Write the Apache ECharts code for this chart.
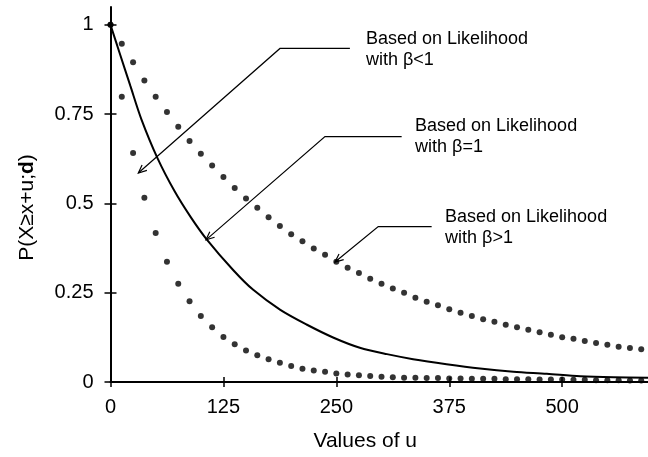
<!DOCTYPE html>
<html>
<head>
<meta charset="utf-8">
<script src="https://cdn.jsdelivr.net/npm/echarts@6/dist/echarts.min.js"></script>
<style>html,body{margin:0;padding:0;background:#fff}#c{width:648px;height:457px}</style>
</head>
<body>
<div id="c"></div>
<script>
// ---- data ----
const uDots = [0,12.5,25,37.5,50,62.5,75,87.5,100,112.5,125,137.5,150,162.5,175,187.5,200,212.5,225,237.5,250,262.5,275,287.5,300,312.5,325,337.5,350,362.5,375,387.5,400,412.5,425,437.5,450,462.5,475,487.5,500,512.5,525,537.5,550,562.5,575,587.5];
const pBetaLess = [1.0,0.799,0.641,0.516,0.417,0.337,0.275,0.226,0.185,0.153,0.126,0.106,0.088,0.075,0.064,0.054,0.045,0.037,0.032,0.029,0.024,0.021,0.019,0.017,0.015,0.013,0.012,0.012,0.011,0.011,0.010,0.010,0.009,0.009,0.009,0.008,0.008,0.008,0.007,0.007,0.007,0.006,0.006,0.005,0.005,0.005,0.004,0.004];
const pBetaMore = [1.0,0.947,0.895,0.844,0.799,0.756,0.715,0.675,0.639,0.606,0.574,0.543,0.514,0.488,0.461,0.437,0.414,0.394,0.374,0.356,0.337,0.320,0.305,0.289,0.275,0.262,0.250,0.236,0.225,0.215,0.204,0.194,0.185,0.176,0.169,0.160,0.153,0.146,0.139,0.132,0.125,0.121,0.115,0.109,0.104,0.099,0.095,0.092];
const uCurve = [0,10,22,34,52,71,89,106,136,158,188,217,247,276,306,335,372,409,446,483,520,557,595];
const pBetaOne = [1.0,0.922,0.829,0.737,0.627,0.534,0.461,0.401,0.313,0.258,0.202,0.161,0.124,0.096,0.078,0.064,0.050,0.038,0.029,0.023,0.016,0.013,0.012];
const xTicks = [0,125,250,375,500];
const yTicks = [0,0.25,0.5,0.75,1];
const xTitle = 'Values of u';
const yTitle = 'P(X≥x+u;{b|d})';
// annotations: text anchor, horizontal end, elbow, arrow tip (data coords)
const notes = [
  {text:'Based on Likelihood\nwith β<1', at:[282.8,0.989], end:[265,0.934], elbow:[187.6,0.934], tip:[30.8,0.585]},
  {text:'Based on Likelihood\nwith β=1', at:[337.1,0.747], end:[322.3,0.687], elbow:[237.4,0.687], tip:[105.7,0.398]},
  {text:'Based on Likelihood\nwith β>1', at:[370.3,0.491], end:[355.5,0.435], elbow:[296.4,0.435], tip:[248.5,0.336]}
];

const FONT = "'Liberation Sans', Arial, sans-serif";
const pair = (xs, ys) => xs.map((x, i) => [x, ys[i]]);

const chart = echarts.init(document.getElementById('c'), null, {renderer: 'canvas'});
const axisLineStyle = {color: '#000', width: 2};
chart.setOption({
  animation: false,
  backgroundColor: '#fff',
  grid: {left: 110.5, right: 0, top: 7, bottom: 70.5, containLabel: false},
  xAxis: [
    {type: 'value', min: 0, max: 595, position: 'bottom',
     axisLine: {show: true, onZero: false, lineStyle: axisLineStyle},
     axisTick: {show: true, inside: false, length: 5, customValues: xTicks, lineStyle: {color: '#000', width: 1.5}},
     axisLabel: {show: true, customValues: xTicks, margin: 15, color: '#000', fontSize: 20, fontFamily: FONT},
     splitLine: {show: false},
     name: xTitle, nameLocation: 'middle', nameGap: 49,
     nameTextStyle: {color: '#000', fontSize: 21, fontFamily: FONT, padding: [0, 28, 0, 0]}},
    {type: 'value', min: 0, max: 595, position: 'bottom',
     axisLine: {show: false, onZero: false},
     axisTick: {show: true, inside: true, length: 5, customValues: xTicks, lineStyle: {color: '#000', width: 1.5}},
     axisLabel: {show: false}, splitLine: {show: false}}
  ],
  yAxis: [
    {type: 'value', min: 0, max: 1.05, position: 'left',
     axisLine: {show: true, onZero: false, lineStyle: axisLineStyle},
     axisTick: {show: true, inside: false, length: 6, customValues: yTicks, lineStyle: {color: '#000', width: 1.5}},
     axisLabel: {show: true, customValues: yTicks, margin: 17, color: '#000', fontSize: 20, fontFamily: FONT},
     splitLine: {show: false},
     name: yTitle, nameLocation: 'middle', nameGap: 73,
     nameTextStyle: {color: '#000', fontSize: 21, fontFamily: FONT, padding: [0, 26, 0, 0],
       rich: {b: {fontWeight: 'bold', fontSize: 21, fontFamily: FONT, color: '#000'}}}},
    {type: 'value', min: 0, max: 1.05, position: 'left',
     axisLine: {show: false, onZero: false},
     axisTick: {show: true, inside: true, length: 6, customValues: yTicks, lineStyle: {color: '#000', width: 1.5}},
     axisLabel: {show: false}, splitLine: {show: false}}
  ],
  series: [
    {name: 'β=1', type: 'line', data: pair(uCurve, pBetaOne), smooth: 0.3, showSymbol: false,
     lineStyle: {color: '#000', width: 2}, clip: true, z: 3},
    {name: 'β<1', type: 'scatter', data: pair(uDots, pBetaLess), symbol: 'circle', symbolSize: 6,
     itemStyle: {color: '#000'}, z: 4},
    {name: 'β>1', type: 'scatter', data: pair(uDots, pBetaMore), symbol: 'circle', symbolSize: 6,
     itemStyle: {color: '#000'}, z: 4}
  ]
});

const toPx = (d) => chart.convertToPixel({xAxisIndex: 0, yAxisIndex: 0}, d);
const graphics = [];
notes.forEach(n => {
  const a = toPx(n.at), e = toPx(n.end), b = toPx(n.elbow), t = toPx(n.tip);
  graphics.push({type: 'polyline', shape: {points: [e, b, t]}, style: {stroke: '#000', lineWidth: 1.2, fill: null}, z: 10});
  const ang = Math.atan2(t[1] - b[1], t[0] - b[0]);
  const L = 9, w = 0.42;
  const p1 = [t[0] - L * Math.cos(ang - w), t[1] - L * Math.sin(ang - w)];
  const p2 = [t[0] - L * Math.cos(ang + w), t[1] - L * Math.sin(ang + w)];
  graphics.push({type: 'polyline', shape: {points: [p1, t, p2]}, style: {stroke: '#000', lineWidth: 1.2, fill: null}, z: 10});
  graphics.push({type: 'text', x: a[0], y: a[1], style: {text: n.text, fill: '#000', font: '18px ' + FONT, lineHeight: 21, textAlign: 'left', textVerticalAlign: 'top'}, z: 10});
});
chart.setOption({graphic: graphics});
</script>
</body>
</html>
